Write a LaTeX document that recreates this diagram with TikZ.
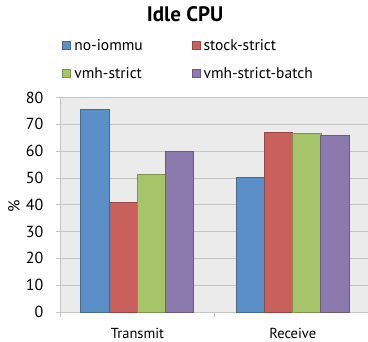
\documentclass[tikz,border=0pt]{standalone}
\usepackage{fontspec}
\setmainfont{PT Sans}
\usetikzlibrary{positioning}

\definecolor{barblue}{HTML}{5B8FC7}
\definecolor{barred}{HTML}{C9605B}
\definecolor{bargreen}{HTML}{A6C46A}
\definecolor{barpurple}{HTML}{8C79AD}
\definecolor{plotbg}{HTML}{EBEBEB}
\definecolor{gridgray}{HTML}{C4C4C4}

\begin{document}
\begin{tikzpicture}[
                    x=1pt, y=1pt,
                    every node/.style={
                        font=\fontsize{15.5}{18}\selectfont
                    },
                    bar/.style={
                        fill=#1,
                        draw=#1!75!black,
                        line width=0.5pt
                    },
                    legendbox/.style={
                        fill=#1,
                        draw=#1!75!black,
                        line width=0.4pt,
                        minimum size=8pt,
                        inner sep=0pt
                    },
                    axisline/.style={
                        draw=gridgray,
                        line width=0.8pt
                    }
                ]
                    \useasboundingbox (0,0) rectangle (368,342);

                    % Plot area and grid
                    \fill[plotbg] (60,30) rectangle (368,244.5);
                    \foreach \v in {10,20,...,80}
                        \draw[gridgray, line width=0.8pt] (60,30+\v*2.681) -- (368,30+\v*2.681);
                    \foreach \v in {0,10,...,80} {
                        \draw[axisline] (56,30+\v*2.681) -- (60,30+\v*2.681);
                        \node[anchor=east, inner sep=3pt, font=\fontsize{16}{18}\selectfont] (y\v) at (46.5,30+\v*2.681) {\v};
                    }
                    \draw[axisline] (60,30) -- (60,244.5);
                    \draw[axisline] (60,30) -- (368,30);
                    \foreach \t in {60,214.7,368}
                        \draw[axisline] (\t,30) -- (\t,25);

                    % Bars
                    \foreach \xl/\v/\c in {80.7/75.5/barblue, 109.3/41/barred,
                                           137.3/51.5/bargreen, 165.3/60/barpurple,
                                           236/50.3/barblue, 264.3/67/barred,
                                           292.7/66.5/bargreen, 320.7/66/barpurple}
                        \draw[bar=\c] (\xl,30) rectangle ++(28.3,\v*2.681);

                    % Labels
                    \node (title) at (185,328) {\fontsize{21}{24}\selectfont\bfseries Idle CPU};
                    \node[rotate=90, font=\fontsize{16}{18}\selectfont] (ylab) at (14,136) {\%};
                    \node[font=\fontsize{14.5}{17}\selectfont] (transmit) at (137.5,9) {Transmit};
                    \node[font=\fontsize{14.5}{17}\selectfont] (receive) at (292.8,9) {Receive};

                    % Legend
                    \node[legendbox=barblue] (kno) at (66.7,297) {};
                    \node[right=0pt of kno] (lno) {no-iommu};
                    \node[legendbox=barred] (kstock) at (195.8,297) {};
                    \node[right=0pt of kstock] (lstock) {stock-strict};
                    \node[legendbox=bargreen] (kvmh) at (66.7,269) {};
                    \node[right=0pt of kvmh] (lvmh) {vmh-strict};
                    \node[legendbox=barpurple] (kbatch) at (195.8,269) {};
                    \node[right=0pt of kbatch] (lbatch) {vmh-strict-batch};
                \end{tikzpicture}
\end{document}
